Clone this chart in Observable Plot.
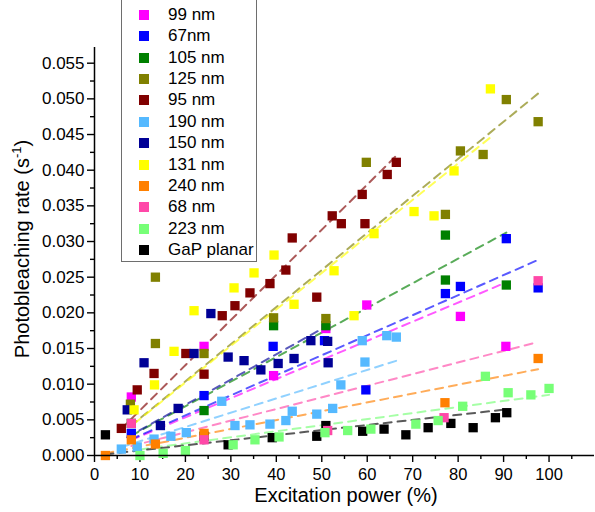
<!DOCTYPE html>
<html><head><meta charset="utf-8">
<script src="https://cdn.jsdelivr.net/npm/d3@7"></script>
<script src="https://cdn.jsdelivr.net/npm/@observablehq/plot@0.6"></script>
<style>
html,body{margin:0;padding:0;background:#fff;}
#wrap{position:relative;width:595px;height:512px;overflow:hidden;font-family:"Liberation Sans",Arial,sans-serif;}
#wrap svg{position:absolute;left:0;top:0;}
#legend{position:absolute;left:121px;top:-2px;width:134px;height:262px;border:1.5px solid #6e6e6e;background:#fff;}
.row{position:absolute;left:0;height:21px;width:134px;}
.sw{position:absolute;left:17px;top:6px;width:10px;height:10px;}
.lab{position:absolute;left:46px;top:0;font-size:17px;line-height:21px;color:#000;white-space:nowrap;}
</style></head><body><div id="wrap"></div>
<script>
// ---- data ----
const seriesNames = ["99 nm","67nm","105 nm","125 nm","95 nm","190 nm","150 nm","131 nm","240 nm","68 nm","223 nm","GaP planar"];
const seriesColors = ["#ff00ff","#0000ff","#008000","#808000","#800000","#55b9ff","#000096","#ffff00","#ff8000","#ff48a8","#77ff77","#000000"];

const x99 = [8.1, 24.1, 39.4, 50.9, 59.9, 80.5, 90.5];
const y99 = [0.0082, 0.0153, 0.0112, 0.0178, 0.0211, 0.0195, 0.0153];
const x67 = [8.1, 24.1, 39.3, 50.6, 59.7, 77.2, 80.5, 90.6, 97.6];
const y67 = [0.0031, 0.0084, 0.0153, 0.0161, 0.0092, 0.0227, 0.0237, 0.0304, 0.0235];
const x105 = [8.1, 24.1, 39.4, 50.9, 77.2, 77.2, 90.6];
const y105 = [0.0045, 0.0063, 0.0182, 0.0182, 0.0309, 0.0246, 0.0239];
const x125 = [7.9, 13.4, 13.4, 24.1, 39.4, 50.9, 59.8, 77.2, 80.5, 85.5, 90.6, 97.6];
const y125 = [0.0072, 0.0250, 0.0157, 0.0143, 0.0193, 0.0192, 0.0411, 0.0338, 0.0427, 0.0422, 0.0499, 0.0468];
const x95 = [5.9, 9.4, 13.1, 20.1, 24.1, 28.1, 30.9, 34.2, 38.6, 42.1, 43.5, 48.9, 52.3, 54.3, 58.9, 59.5, 64.4, 66.4];
const y95 = [0.0038, 0.0092, 0.0115, 0.0143, 0.0114, 0.0196, 0.0210, 0.0228, 0.0241, 0.0260, 0.0305, 0.0222, 0.0336, 0.0325, 0.0366, 0.0325, 0.0394, 0.0411];
const x190 = [5.9, 9.4, 13.1, 16.8, 20.2, 28.0, 30.9, 34.2, 38.6, 42.1, 43.5, 48.9, 52.4, 54.2, 58.9, 59.5, 64.3, 66.4];
const y190 = [0.0009, 0.0012, 0.0023, 0.0027, 0.0032, 0.0076, 0.0042, 0.0043, 0.0044, 0.0049, 0.0062, 0.0058, 0.0066, 0.0099, 0.0161, 0.0131, 0.0168, 0.0166];
const x150 = [7.2, 10.9, 14.5, 18.4, 21.9, 25.6, 29.4, 32.9, 36.6, 40.4, 43.9, 47.6, 51.3, 51.4];
const y150 = [0.0064, 0.0130, 0.0042, 0.0066, 0.0143, 0.0199, 0.0138, 0.0133, 0.0120, 0.0129, 0.0136, 0.0161, 0.0160, 0.0130];
const x131 = [8.7, 13.2, 17.5, 21.9, 30.7, 35.1, 39.5, 43.9, 52.7, 57.1, 61.5, 70.3, 74.7, 79.1, 87.1];
const y131 = [0.0064, 0.0099, 0.0146, 0.0203, 0.0235, 0.0256, 0.0281, 0.0212, 0.0259, 0.0196, 0.0311, 0.0342, 0.0336, 0.0399, 0.0514];
const x240 = [2.4, 8.1, 13.4, 24.1, 77.1, 97.6];
const y240 = [0.0000, 0.0022, 0.0016, 0.0031, 0.0074, 0.0136];
const x68 = [8.1, 24.1, 51.3, 76.9, 97.6];
const y68 = [0.0045, 0.0022, 0.0035, 0.0053, 0.0245];
const x223 = [10.0, 15.1, 20.0, 30.5, 35.3, 40.6, 50.7, 55.7, 60.8, 70.7, 75.6, 81.0, 86.0, 91.0, 96.0, 100.0];
const y223 = [0.0000, 0.0003, 0.0007, 0.0015, 0.0022, 0.0026, 0.0032, 0.0035, 0.0037, 0.0044, 0.0049, 0.0069, 0.0111, 0.0088, 0.0085, 0.0094];
const xGaP = [2.4, 24.1, 29.4, 39.1, 48.9, 50.9, 59.0, 63.7, 68.5, 73.4, 78.4, 83.3, 88.2, 90.7];
const yGaP = [0.0029, 0.0027, 0.0015, 0.0025, 0.0027, 0.0042, 0.0034, 0.0037, 0.0029, 0.0039, 0.0045, 0.0039, 0.0053, 0.0060];

// slopes of the dashed linear fits (through origin)
const fitSlopes = [0.000268, 0.000281, 0.000345, 0.00052, 0.000633, 0.0002, 0.000355, 0.000512, 0.000124, 0.000163, 0.000085, 0.0000713];

const xTicks = d3.range(0, 101, 10);
const xMinorTicks = d3.range(5, 110, 10);
const yTicks = d3.range(0, 0.0551, 0.005);
const yMinorTicks = d3.range(0.0025, 0.0572, 0.005);

// ---- build tables ----
const xs = [x99, x67, x105, x125, x95, x190, x150, x131, x240, x68, x223, xGaP];
const ys = [y99, y67, y105, y125, y95, y190, y150, y131, y240, y68, y223, yGaP];
const drawOrder = [11, 0, 1, 2, 3, 4, 5, 6, 7, 8, 9, 10];
const points = drawOrder.flatMap(i => xs[i].map((x, j) => ({s: seriesNames[i], x, y: ys[i][j]})));
const fits = seriesNames.flatMap((s, i) => {
  const [lo, hi] = d3.extent(xs[i]);
  return [lo, hi].map(x => ({s, x, y: fitSlopes[i] * x}));
});

const chart = Plot.plot({
  width: 595, height: 512,
  marginLeft: 94, marginRight: 1, marginTop: 47, marginBottom: 57,
  x: {domain: [0, 110]},
  y: {domain: [0, 0.0572]},
  color: {domain: seriesNames, range: seriesColors},
  style: {fontFamily: "'Liberation Sans', Arial, sans-serif", fontSize: "17px", color: "#000", background: "transparent"},
  marks: [
    Plot.axisX({ticks: xMinorTicks, tickSize: 4, tickFormat: () => "", label: null, strokeWidth: 1.4}),
    Plot.axisX({ticks: xTicks, tickSize: 7, tickPadding: 6, fontSize: 16.5, tickFormat: d3.format("d"), label: null, strokeWidth: 1.4}),
    Plot.axisY({ticks: yMinorTicks, tickSize: 4, tickFormat: () => "", label: null, strokeWidth: 1.4}),
    Plot.axisY({ticks: yTicks, tickSize: 7, tickPadding: 3, tickFormat: d3.format(".3f"), label: null, strokeWidth: 1.4}),
    Plot.line(fits, {x: "x", y: "y", z: "s", stroke: "s", strokeWidth: 2, strokeOpacity: 0.65, strokeDasharray: "8,6"}),
    Plot.dot(points, {x: "x", y: "y", fill: "s", symbol: "square", r: 5.25}),
    Plot.ruleX([0], {strokeWidth: 1.5}),
    Plot.ruleY([0], {strokeWidth: 1.5})
  ]
});

const wrap = document.getElementById("wrap");
wrap.appendChild(chart);

// axis titles
const svg = d3.select(chart);
svg.append("text")
  .attr("x", 346).attr("y", 502)
  .attr("text-anchor", "middle")
  .attr("font-size", 20).attr("fill", "#000")
  .text("Excitation power (%)");
const yt = svg.append("text")
  .attr("transform", "translate(29,249) rotate(-90)")
  .attr("text-anchor", "middle")
  .attr("font-size", 20).attr("fill", "#000");
yt.append("tspan").text("Photobleaching rate (s");
yt.append("tspan").attr("font-size", 13).attr("dy", -8).text("-1");
yt.append("tspan").attr("dy", 8).text(")");

// legend
const legend = document.createElement("div");
legend.id = "legend";
seriesNames.forEach((name, i) => {
  const row = document.createElement("div");
  row.className = "row";
  row.style.top = (5 + i * 21.36) + "px";
  const sw = document.createElement("div");
  sw.className = "sw";
  sw.style.background = seriesColors[i];
  const lab = document.createElement("div");
  lab.className = "lab";
  lab.textContent = name;
  row.appendChild(sw); row.appendChild(lab);
  legend.appendChild(row);
});
wrap.appendChild(legend);
</script></body></html>
